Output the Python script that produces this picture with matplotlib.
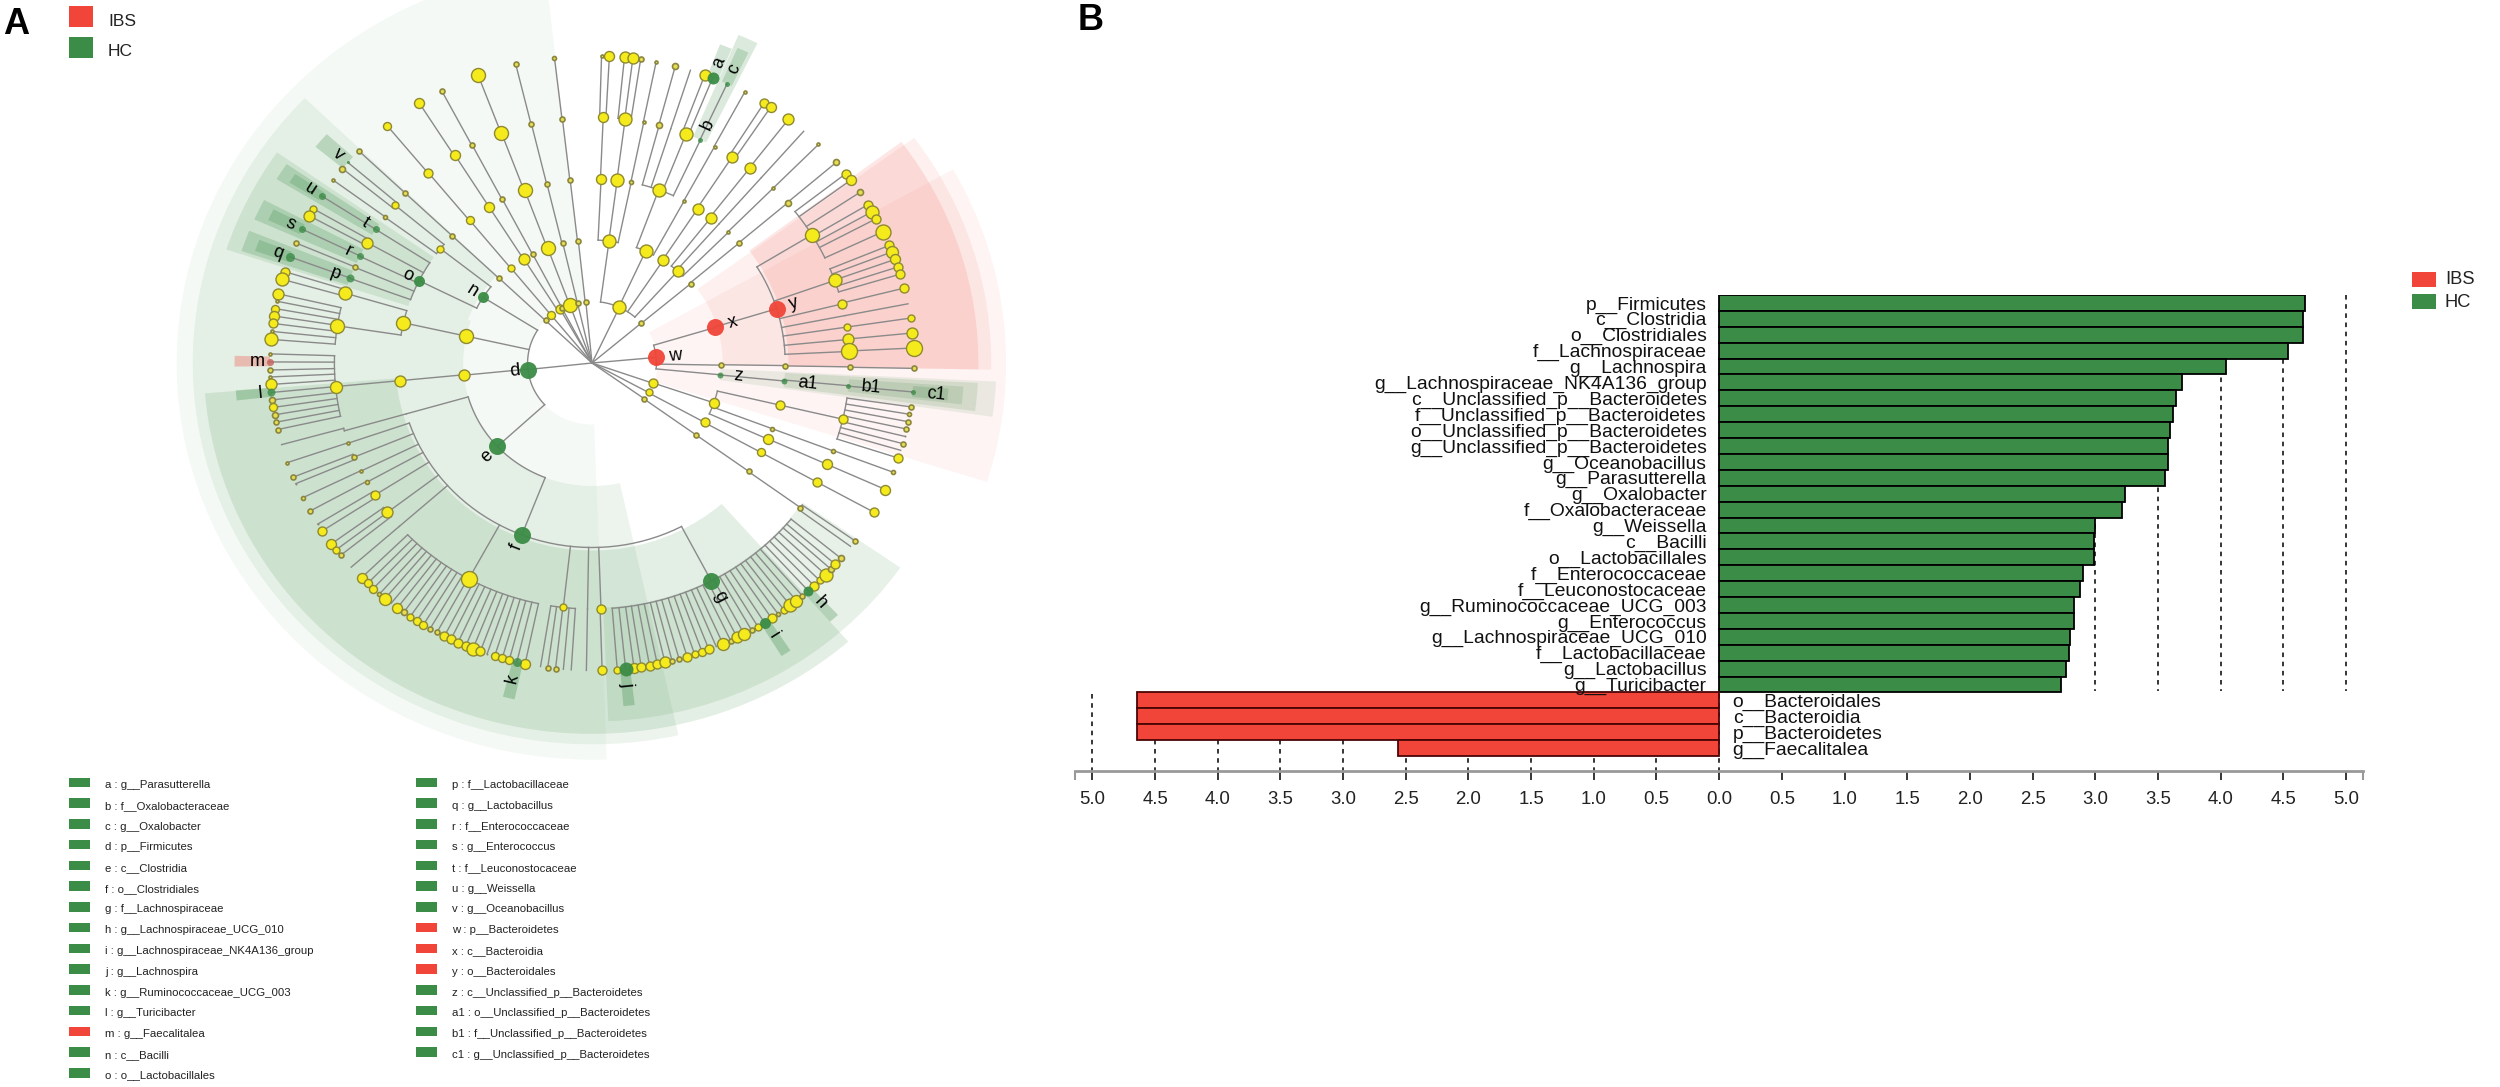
import numpy as np
import matplotlib
matplotlib.use('Agg')
import matplotlib.pyplot as plt
from matplotlib.patches import Rectangle

plt.rcParams['font.family'] = ['Liberation Sans', 'DejaVu Sans']

# panel B, LDA scores
bar_names = ['p__Firmicutes', 'c__Clostridia', 'o__Clostridiales', 'f__Lachnospiraceae', 'g__Lachnospira',
             'g__Lachnospiraceae_NK4A136_group', 'c__Unclassified_p__Bacteroidetes', 'f__Unclassified_p__Bacteroidetes',
             'o__Unclassified_p__Bacteroidetes', 'g__Unclassified_p__Bacteroidetes', 'g__Oceanobacillus',
             'g__Parasutterella', 'g__Oxalobacter', 'f__Oxalobacteraceae', 'g__Weissella', 'c__Bacilli',
             'o__Lactobacillales', 'f__Enterococcaceae', 'f__Leuconostocaceae', 'g__Ruminococcaceae_UCG_003',
             'g__Enterococcus', 'g__Lachnospiraceae_UCG_010', 'f__Lactobacillaceae', 'g__Lactobacillus',
             'g__Turicibacter', 'o__Bacteroidales', 'c__Bacteroidia', 'p__Bacteroidetes', 'g__Faecalitalea']
bar_values = [4.67, 4.654, 4.654, 4.54, 4.042, 3.69, 3.644, 3.62, 3.60, 3.58, 3.58, 3.56, 3.24, 3.21, 3.00,
              2.99, 2.99, 2.90, 2.88, 2.83, 2.83, 2.80, 2.79, 2.77, 2.73, -4.646, -4.646, -4.646, -2.565]

# panel A key
key_left = ['a : g__Parasutterella', 'b : f__Oxalobacteraceae', 'c : g__Oxalobacter', 'd : p__Firmicutes',
            'e : c__Clostridia', 'f : o__Clostridiales', 'g : f__Lachnospiraceae', 'h : g__Lachnospiraceae_UCG_010',
            'i : g__Lachnospiraceae_NK4A136_group', 'j : g__Lachnospira', 'k : g__Ruminococcaceae_UCG_003',
            'l : g__Turicibacter', 'm : g__Faecalitalea', 'n : c__Bacilli', 'o : o__Lactobacillales']
key_right = ['p : f__Lactobacillaceae', 'q : g__Lactobacillus', 'r : f__Enterococcaceae', 's : g__Enterococcus',
             't : f__Leuconostocaceae', 'u : g__Weissella', 'v : g__Oceanobacillus', 'w : p__Bacteroidetes',
             'x : c__Bacteroidia', 'y : o__Bacteroidales', 'z : c__Unclassified_p__Bacteroidetes',
             'a1 : o__Unclassified_p__Bacteroidetes', 'b1 : f__Unclassified_p__Bacteroidetes',
             'c1 : g__Unclassified_p__Bacteroidetes']
ibs_letters = ['m', 'w', 'x', 'y']

# cladogram: (angle in degrees, node size), root children first
level1 = [(136.2, 5), (129.2, 8), (119.5, 9), (117.6, 5), (110, 14), (103, 5), (95.5, 5), (64.8, 13), (40.3, 5),
          (5.2, 17), (-19.2, 9), (-28.6, 7), (-35.6, 5), (186.1, 17)]
# (parent angle, angle, node size)
level2 = [(136.2, 136.3, 5), (129.2, 129.2, 7), (119.5, 122, 11), (117.6, 117.5, 5), (110, 110.2, 14), (103, 103.1, 5),
          (95.5, 96.1, 5), (64.8, 82.4, 13), (64.8, 65.4, 13), (64.8, 56.5, 11), (64.8, 48.3, 11), (40.3, 40.1, 5),
          (5.2, 16.8, 17), (5.2, -1, 5), (5.2, -5.5, 6), (-19.2, -18.9, 10), (-28.6, -28.9, 9), (-35.6, -35.9, 5),
          (186.1, 147.7, 11), (186.1, 167.4, 14), (186.1, 185.7, 11), (186.1, 222.7, 17)]
level3 = [(136.3, 136.4, 5), (129.2, 129.3, 8), (122, 122.2, 10), (117.5, 117.6, 5), (110.2, 110.4, 14), (103.1, 103.5, 5),
          (96.1, 96.5, 5), (82.4, 87.3, 10), (82.4, 82.5, 13), (82.4, 78.3, 4), (65.4, 69.8, 13), (65.4, 61.5, 3),
          (56.5, 56.8, 11), (48.3, 52, 11), (48.3, 48.9, 0), (48.3, 45.1, 3), (40.1, 40.5, 5), (16.8, 17.1, 17),
          (-1, -0.8, 5), (-5.5, -5.6, 6), (-18.9, -13.2, 9), (-18.9, -20.9, 4), (-18.9, -24.4, 10), (-28.9, -29, 8),
          (-35.9, -35.9, 5), (147.7, 141.7, 7), (147.7, 153.5, 11), (167.4, 167.4, 14), (185.7, 185.5, 11),
          (222.7, 196, 0), (222.7, 248.7, 17)]
level4 = [(136.4, 136.4, 5), (129.3, 129.4, 9), (122.2, 122.2, 10), (117.6, 117.7, 5), (110.4, 110.6, 14), (103.5, 103.6, 5),
          (96.5, 96.6, 5), (87.3, 87.5, 10), (82.5, 82.6, 13), (78.3, 78.4, 3), (69.8, 74.9, 6), (69.8, 72.2, 0),
          (69.8, 68.6, 13), (69.8, 65.1, 5), (61.5, 61.6, 3), (56.8, 57, 11), (52, 52.3, 11), (48.9, 48.9, 0),
          (45.1, 45.3, 3), (40.5, 40.6, 6), (17.1, 31.4, 14), (17.1, 19.6, 13), (17.1, 13.9, 9), (17.1, 11.1, 0),
          (17.1, 8.4, 7), (17.1, 5.5, 11), (17.1, 2.7, 16), (-0.8, -0.9, 5), (-5.6, -5.3, 5), (-13.2, -13.2, 9),
          (-20.9, -20.9, 4), (-24.4, -24.3, 10), (-29, -29, 9), (-35.9, -36, 5), (141.7, 143.6, 4), (141.7, 140, 7),
          (153.5, 147.1, 7), (153.5, 150.7, 11), (153.5, 154.3, 7), (153.5, 157.1, 5), (153.5, 159.9, 8),
          (167.4, 163.5, 13), (167.4, 171.3, 14), (185.5, 185.5, 12), (196, 196, 0), (248.7, 199, 3), (248.7, 202.5, 5),
          (248.7, 206.1, 3), (248.7, 209, 4), (248.7, 212.5, 9), (248.7, 217.4, 11), (248.7, 221.6, 0), (248.7, 241.4, 16),
          (248.7, 263.6, 7), (248.7, 269, 0), (248.7, 272, 9), (248.7, 297.6, 17)]
level5 = [(136.4, 136.4, 5), (129.4, 129.5, 8), (122.2, 122.4, 10), (117.7, 117.8, 5), (110.6, 110.7, 14), (103.6, 103.7, 5),
          (96.6, 96.7, 4), (87.5, 88.3, 3), (87.5, 86.9, 10), (82.6, 84.2, 11), (82.6, 82.7, 11), (82.6, 81.3, 5),
          (78.4, 78.5, 3), (74.9, 75, 6), (72.2, 72.2, 0), (68.6, 69.5, 11), (68.6, 68, 12), (65.1, 65.2, 5),
          (61.6, 61.7, 3), (57, 57.7, 9), (57, 56.3, 10), (52.3, 52.4, 11), (48.9, 48.9, 0), (45.3, 45.3, 3), (40.6, 40.7, 6),
          (31.4, 38, 9), (31.4, 36.5, 10), (31.4, 33.7, 6), (31.4, 31, 9), (31.4, 29.5, 13), (31.4, 28, 9), (31.4, 25.3, 15),
          (19.6, 22.5, 9), (19.6, 21.2, 12), (19.6, 19.7, 10), (19.6, 18.2, 9), (19.6, 16.8, 9),
          (13.9, 14.1, 9), (11.1, 11.1, 0), (8.4, 8.4, 7), (5.5, 5.6, 11), (2.7, 2.8, 16), (-0.9, -1, 5), (-5.3, -5.4, 5),
          (-13.2, -8.2, 5), (-13.2, -9.6, 4), (-13.2, -11, 5), (-13.2, -12.4, 5), (-13.2, -13.8, 2), (-13.2, -15.2, 5),
          (-13.2, -16.5, 0), (-13.2, -18, 9), (-20.9, -20.8, 4), (-24.3, -24.3, 10), (-29, -29, 9), (-36, -35.3, 5), (-36, -36.6, 0),
          (143.6, 143.5, 3), (140, 139.3, 3), (140, 140.8, 6), (147.1, 147.1, 7), (150.7, 149.9, 7), (150.7, 151.4, 11),
          (154.3, 154.2, 7), (157.1, 157, 5), (159.9, 159.8, 9), (163.5, 162.7, 9), (163.5, 164.2, 13),
          (171.3, 167, 11), (171.3, 168.4, 3), (171.3, 169.8, 8), (171.3, 171.2, 10), (171.3, 172.6, 9), (171.3, 174.1, 3), (171.3, 175.6, 13),
          (185.5, 178.3, 3), (185.5, 179.8, 7), (185.5, 181.3, 5), (185.5, 182.6, 3), (185.5, 184, 11), (185.5, 185.5, 8),
          (185.5, 186.9, 6), (185.5, 188.3, 8), (185.5, 189.7, 6), (185.5, 191.1, 5), (185.5, 192.5, 5), (196, 195.4, 0),
          (199, 198.9, 3), (202.5, 201.8, 5), (202.5, 203.1, 2), (206.1, 206, 4), (209, 208.8, 5), (212.5, 211.6, 2), (212.5, 213.1, 9),
          (217.4, 216, 10), (217.4, 217.4, 7), (217.4, 218.7, 5), (221.6, 221.6, 0),
          (263.6, 260.8, 0), (263.6, 262.1, 5), (263.6, 263.5, 5), (263.6, 264.9, 0), (263.6, 266.3, 0),
          (269, 269, 0), (272, 271.8, 9)]
fan_241_angles = [224.3, 225.8, 227.2, 228.7, 230, 231.4, 232.8, 234.2, 235.6, 237, 238.4, 239.8, 241.2, 242.7, 244,
                  245.4, 246.9, 248.3, 249.7, 251, 252.4, 253.8, 255.1, 256.5, 258]
fan_241_sizes = [10, 8, 8, 4, 12, 0, 10, 6, 7, 8, 8, 5, 5, 9, 9, 9, 9, 13, 9, 2, 8, 8, 8, 9, 10]
fan_297_angles = [274.5, 276, 277.5, 278.8, 280.3, 281.7, 283.1, 284.4, 285.7, 287.2, 288.6, 290, 291.3, 292.7, 294, 295.5, 296.8,
                  298.2, 299.7, 301, 302.4, 303.9, 305.3, 306.6, 308, 309.4, 310.8, 312.2, 313.6, 315, 316.5, 317.9, 319.1, 320.6]
fan_297_sizes = [7, 14, 10, 9, 9, 9, 11, 5, 5, 9, 7, 8, 9, 0, 12, 5, 11, 12, 5, 7, 11, 9, 4, 7, 13, 12, 5, 10, 9, 7, 13, 6, 9, 6]

# significant taxa: letter, level, angle, gap to the label
marked = [('a', 5, 68, .27), ('b', 4, 65.1, .27), ('c', 5, 65.2, .26), ('d', 1, 186.1, .2), ('e', 2, 222.7, .23),
          ('f', 3, 248.7, .22), ('g', 4, 297.6, .28), ('h', 5, 312.2, .27), ('i', 5, 302.4, .25), ('j', 5, 276, .25),
          ('k', 5, 256.5, .27), ('l', 5, 185.5, .17), ('m', 5, 179.8, .2), ('n', 2, 147.7, .2), ('o', 3, 153.5, .2),
          ('p', 4, 159.9, .24), ('q', 5, 159.8, .2), ('r', 4, 154.3, .2), ('s', 5, 154.2, .2), ('t', 4, 147.1, .2),
          ('u', 5, 147.1, .2), ('v', 5, 139.3, .2), ('w', 1, 5.2, .3), ('x', 2, 16.8, .28), ('y', 3, 17.1, .27),
          ('z', 2, -5.5, .28), ('a1', 3, -5.6, .36), ('b1', 4, -5.3, .35), ('c1', 5, -5.4, .36)]

# background wedges: angle from, angle to, inner radius, outer radius, opacity
green_wedges = [(96.5, 272, 1.0, 6.45, .05), (160, 282.5, 2.0, 6.2, .09), (184.7, 311.3, 3.05, 6.03, .14),
                (272.5, 325.2, 3.98, 5.83, .12), (136, 160, 2.05, 6.2, .09), (145, 162, 3, 5.97, .13),
                (145.7, 148.6, 4, 5.74, .22), (146.3, 148, 5, 5.54, .25), (152.5, 156, 4, 5.74, .22), (153.2, 155.2, 5, 5.54, .25),
                (158, 161.5, 4, 5.74, .22), (158.8, 160.8, 5, 5.54, .25), (137.9, 140.7, 5, 5.55, .25),
                (67, 69, 5, 5.55, .22), (63.7, 66.9, 4, 5.8, .18), (64.3, 66.2, 5, 5.6, .22),
                (-8, -2.75, 2, 6.28, .1), (-7.5, -3.1, 3, 6, .14), (-6.7, -3.8, 4, 5.78, .16), (-6.3, -4.3, 5, 5.55, .2),
                (255.7, 257.6, 5, 5.6, .3), (301.7, 303.4, 5, 5.6, .3), (311.3, 313, 5, 5.6, .3), (275, 276.8, 5, 5.6, .3),
                (184.6, 186.3, 5, 5.55, .3)]
red_wedges = [(-17.5, 29.3, 1.02, 6.43, .06), (-1, 36.2, 2.03, 6.2, .08), (-1, 36.8, 3.05, 6, .13), (178.8, 180.6, 5, 5.55, .3)]

GREEN = '#3b8c46'
RED = '#f04538'
LINE = '#8a8a8a'

fig = plt.figure(figsize=(25, 10.87), dpi=100)

# cladogram, pole at pixel (592, 363), one level is 64.4 px across and 61.5 px down
ax = fig.add_axes([(592 - 450.8) / 2500, (1087 - 363 - 430.5) / 1087, 901.6 / 2500, 861 / 1087], projection='polar')
ax.set_aspect('auto')
ax.set_rlim(0, 7)
ax.axis('off')

for wedges, col in [(green_wedges, GREEN), (red_wedges, RED)]:
    for a0, a1, r0, r1, op in wedges:
        ax.bar(np.radians((a0 + a1) / 2), r1 - r0, width=np.radians(a1 - a0), bottom=r0, color=col, alpha=op, linewidth=0, zorder=1)

level5 = level5 + [(241.4, a, s) for a, s in zip(fan_241_angles, fan_241_sizes)]
level5 = level5 + [(297.6, a, s) for a, s in zip(fan_297_angles, fan_297_sizes)]
levels = [[(None, a, s) for a, s in level1], level2, level3, level4, level5]

for n, nodes in enumerate(levels):
    lev = n + 1
    parents = {}
    for parent, angle, size in nodes:
        t = np.radians(angle)
        ax.plot([t, t], [lev - 1, lev], color=LINE, lw=1.0, zorder=2)
        parents.setdefault(parent, []).append(angle)
    if n == 0:
        continue
    for parent, kids in parents.items():
        lo = min(kids + [parent])
        hi = max(kids + [parent])
        tt = np.radians(np.linspace(lo, hi, 40))
        ax.plot(tt, np.full(40, lev - 1.0), color=LINE, lw=1.0, zorder=2)

special = {(m[1], m[2]): m[0] for m in marked}
for n, nodes in enumerate(levels):
    lev = n + 1
    for parent, angle, size in nodes:
        if size == 0:
            continue
        letter = special.get((lev, angle))
        area = (size * .72) ** 2
        if letter is not None:
            col = RED if letter in ibs_letters else GREEN
            if letter == 'm':
                col = '#c4605a'
            ax.scatter(np.radians(angle), lev, s=area, color=col, alpha=.95 if size > 9 else .8, linewidth=0, zorder=5)
        elif size < 3:
            ax.scatter(np.radians(angle), lev, s=area, color='#8a8a70', linewidth=0, zorder=3)
        elif size <= 6:
            ax.scatter(np.radians(angle), lev, s=area, color='#e6dc50', edgecolor='#8a8640', linewidth=1.2, zorder=3)
        else:
            ax.scatter(np.radians(angle), lev, s=area, color='#f4ea1c', edgecolor='#8f8a30', linewidth=1.0, zorder=3)

for letter, lev, angle, gap in marked:
    rot = angle if -90 <= angle <= 90 else angle - 180
    if angle > 270:
        rot = angle - 360
    ax.text(np.radians(angle), lev + gap, letter, rotation=rot, rotation_mode='anchor', ha='center', va='center',
            fontsize=13, color='black', zorder=6)

# lda bars, zero at pixel 1719, 125.37 px per unit, rows 15.9 px
ax2 = fig.add_axes([1075.3 / 2500, (1087 - 770.7) / 1087, 1288 / 2500, 475.7 / 1087])
ypos = np.arange(len(bar_values))
bar_cols = [GREEN if v > 0 else RED for v in bar_values]
edge_cols = ['black' if v > 0 else '#4a0505' for v in bar_values]
ax2.barh(ypos, bar_values, height=1.0, color=bar_cols, edgecolor=edge_cols, linewidth=1.3, zorder=3)
ax2.set_xlim(-5.136, 5.138)
ax2.set_ylim(29.42, -0.5)
ticks = np.arange(-5, 5.01, .5)
ax2.vlines(ticks[ticks > 0], -.5, 24.4, color='black', lw=1.1, linestyle=(0, (3, 3)), zorder=1)
ax2.vlines(ticks[ticks <= 0], 24.6, 29.42, color='black', lw=1.1, linestyle=(0, (3, 3)), zorder=1)
ax2.vlines([-5.136, 5.138], 29.42, 30.0, color='#999999', lw=1.5, clip_on=False)
for y, v, name in zip(ypos, bar_values, bar_names):
    off = -12.5 if v > 0 else 13.5
    ax2.annotate(name, (0, y), xytext=(off, -2), textcoords='offset pixels', ha='right' if v > 0 else 'left',
                 va='center', fontsize=13.9, color='#111111', zorder=4, annotation_clip=False)
ax2.set_xticks(ticks)
ax2.set_xticklabels(['%.1f' % abs(t) for t in ticks], fontsize=13.4, color='#222222')
ax2.set_yticks([])
ax2.tick_params(axis='x', length=6.5, width=1.1, pad=8)
for side in ['top', 'left', 'right']:
    ax2.spines[side].set_visible(False)
ax2.spines['bottom'].set_color('#999999')
ax2.spines['bottom'].set_linewidth(2)
ax2.patch.set_alpha(0)

# legends and panel letters, placed in figure pixels
ov = fig.add_axes([0, 0, 1, 1])
ov.set_xlim(0, 2500)
ov.set_ylim(1087, 0)
ov.axis('off')
ov.patch.set_alpha(0)

ov.text(3, 24, 'A', fontsize=26, fontweight='bold', va='center')
ov.text(1078, 21, 'B', fontsize=26, fontweight='bold', va='center')
for y, name, col in [(6, 'IBS', RED), (37, 'HC', GREEN)]:
    ov.add_patch(Rectangle((69, y), 24, 21, color=col, linewidth=0))
    ov.text(108, y + 15, name, fontsize=12.5, va='center', color='#222222')
for y, name, col in [(272, 'IBS', RED), (294.3, 'HC', GREEN)]:
    ov.add_patch(Rectangle((2411.7, y), 24, 15, color=col, linewidth=0))
    ov.text(2445, y + 8, name, fontsize=13.2, va='center', color='#222222')

for x, names in [(69, key_left), (416, key_right)]:
    for i, name in enumerate(names):
        y = 785 + i * 20.75
        col = RED if name.split(' : ')[0] in ibs_letters else GREEN
        ov.add_patch(Rectangle((x, y - 7.5), 21, 9.5, color=col, linewidth=0))
        ov.text(x + 36, y, name, fontsize=8.2, va='center', color='#222222')

fig.savefig('out.png', dpi=100, facecolor='white')
